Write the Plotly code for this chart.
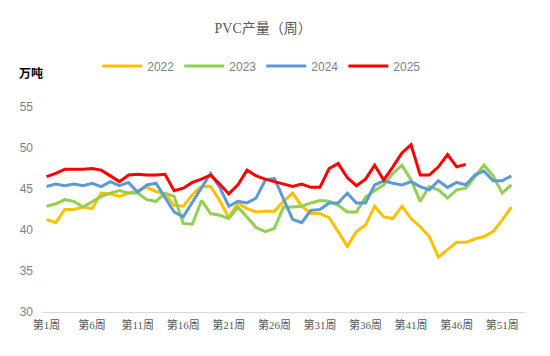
import plotly.graph_objects as go

weeks = [f"第{i}周" for i in range(1, 54)]
tick_labels = ["第1周", "第6周", "第11周", "第16周", "第21周", "第26周",
               "第31周", "第36周", "第41周", "第46周", "第51周"]

y2022 = [41.3, 40.9, 42.5, 42.5, 42.8, 42.6, 44.5, 44.4, 44.1, 44.5,
         44.8, 45.2, 44.7, 44.4, 43.0, 42.9, 44.3, 45.3, 45.3, 43.6,
         41.5, 43.3, 42.6, 42.2, 42.3, 42.3, 43.5, 44.5, 42.9, 42.0,
         42.0, 41.5, 39.8, 38.0, 39.8, 40.6, 42.9, 41.6, 41.4, 42.9,
         41.4, 40.4, 39.2, 36.7, 37.6, 38.5, 38.5, 38.9, 39.2, 39.8,
         41.2, 42.8]
y2023 = [42.9, 43.2, 43.7, 43.5, 42.8, 43.5, 44.1, 44.5, 44.8, 44.5,
         44.5, 43.7, 43.5, 44.5, 44.1, 40.8, 40.7, 43.6, 42.0, 41.8,
         41.4, 42.8, 41.5, 40.3, 39.8, 40.2, 42.8, 42.8, 42.9, 43.3,
         43.6, 43.5, 43.0, 42.2, 42.2, 44.0, 44.8, 45.5, 46.9, 47.9,
         46.1, 43.5, 45.3, 44.9, 43.9, 44.9, 45.1, 46.5, 47.9, 46.6,
         44.5, 45.5]
y2024 = [45.3, 45.6, 45.4, 45.6, 45.4, 45.7, 45.3, 45.9, 45.4, 45.8,
         44.6, 45.5, 45.7, 44.0, 42.2, 41.6, 43.4, 45.2, 46.9, 45.2,
         42.9, 43.5, 43.3, 43.9, 46.1, 46.3, 43.7, 41.3, 40.9, 42.4,
         42.5, 43.3, 43.3, 44.5, 43.3, 43.3, 45.5, 46.0, 45.7, 45.5,
         45.9, 45.3, 44.9, 46.0, 45.2, 45.8, 45.5, 46.7, 47.2, 46.0,
         46.0, 46.6]
y2025 = [46.5, 46.9, 47.4, 47.4, 47.4, 47.5, 47.3, 46.6, 45.9, 46.7,
         46.8, 46.7, 46.7, 46.8, 44.8, 45.1, 45.8, 46.2, 46.7, 45.6,
         44.4, 45.5, 47.3, 46.6, 46.2, 45.9, 45.6, 45.3, 45.6, 45.2,
         45.2, 47.5, 48.1, 46.4, 45.4, 46.2, 47.9, 46.1, 47.7, 49.4,
         50.4, 46.7, 46.7, 47.7, 49.2, 47.7, 48.0]

series = [("2022", y2022, "#FFC000"), ("2023", y2023, "#92D050"),
          ("2024", y2024, "#5B9BD5"), ("2025", y2025, "#FF0000")]

fig = go.Figure()
for name, vals, color in series:
    fig.add_trace(go.Scatter(
        x=weeks[:len(vals)], y=vals, name=name, mode="lines",
        line=dict(color=color, width=3)))

serif = "Liberation Serif, Noto Sans CJK SC, serif"
fig.update_layout(
    width=550, height=356,
    margin=dict(l=31, r=33, t=99, b=52),
    paper_bgcolor="white", plot_bgcolor="white",
    title=dict(text="PVC产量（周）", x=0.464, y=0.943, xanchor="center", yanchor="middle",
               font=dict(family=serif, size=14, color="#595959")),
    legend=dict(orientation="h", x=0.455, xanchor="center", y=1.2, yanchor="middle",
                font=dict(family="Liberation Sans, Arial", size=12, color="#7f7f7f"),
                itemwidth=40, tracegroupgap=0, bgcolor="rgba(0,0,0,0)"),
    xaxis=dict(type="category", categoryorder="array", categoryarray=weeks,
               range=[-0.5, 52.5], tickmode="array", tickvals=tick_labels, ticktext=tick_labels,
               showline=True, linecolor="#d9d9d9", linewidth=1, showgrid=False,
               ticks="", ticklabelstandoff=3,
               tickfont=dict(family=serif, size=11, color="#595959"),
               zeroline=False),
    yaxis=dict(range=[30, 55], dtick=5, showgrid=False, showline=False, zeroline=False,
               ticks="", ticklabelstandoff=8,
               tickfont=dict(family="Liberation Sans, Arial", size=12, color="#7f7f7f")),
    annotations=[dict(text="<b>万吨</b>", xref="paper", yref="paper", x=-0.023, y=1.166,
                      xanchor="center", yanchor="middle", showarrow=False,
                      font=dict(family="Noto Sans CJK SC", size=12, color="#000000"))],
)

fig.write_html("out.html")
